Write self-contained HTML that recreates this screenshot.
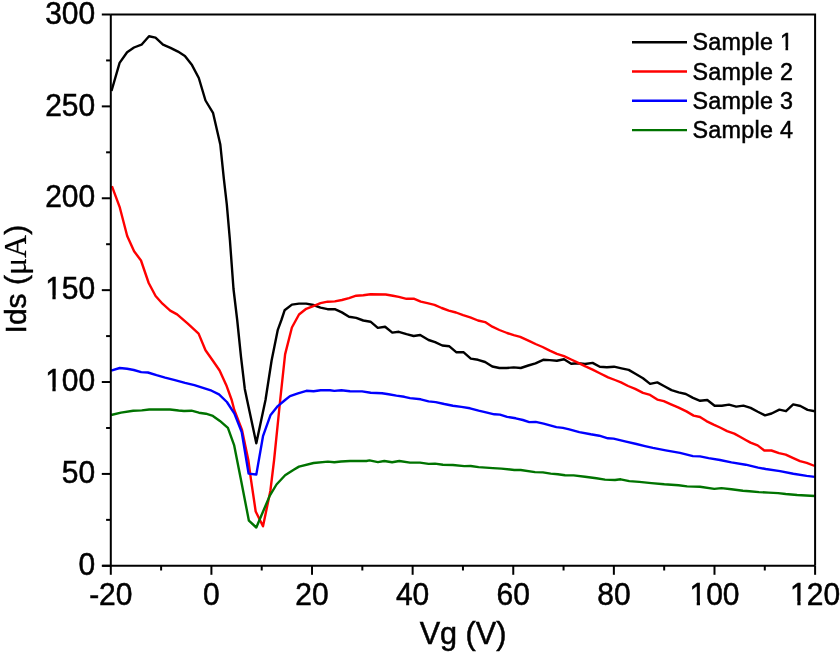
<!DOCTYPE html><html><head><meta charset="utf-8"><title>Ids vs Vg</title><style>
html,body{margin:0;padding:0;background:#fff;}body{width:840px;height:652px;overflow:hidden;}
svg{display:block;}text{font-family:"Liberation Sans",Arial,sans-serif;fill:#000;}
</style></head><body>
<svg width="840" height="652" viewBox="0 0 840 652">
<rect width="840" height="652" fill="#fff"/>
<g fill="none" stroke-width="2.4" stroke-linejoin="round">
<polyline stroke="#000000" points="111.5,91.0 119.6,62.9 127.1,52.2 134.0,47.5 141.5,44.7 149.0,36.3 155.5,37.6 163.0,44.7 170.5,47.9 178.0,51.6 184.9,55.9 192.0,65.1 198.8,78.0 205.5,100.5 213.0,112.8 220.3,144.5 223.8,178.3 226.8,204.4 229.9,240.0 231.7,264.5 233.5,289.0 237.2,320.0 241.0,356.8 244.8,388.9 247.1,400.0 256.3,443.3 265.5,400.0 271.6,360.5 277.8,329.8 281.4,320.0 284.6,310.3 291.9,304.6 299.0,303.6 306.2,303.6 313.3,305.0 320.5,307.6 327.6,309.2 334.8,309.2 341.9,312.4 349.0,316.7 356.2,317.9 363.3,320.5 370.5,321.7 377.8,327.9 385.1,326.7 392.3,332.6 398.8,331.8 406.5,334.2 413.7,336.0 420.2,335.0 428.6,340.0 435.1,342.1 442.3,345.5 449.4,346.3 456.5,352.3 463.7,352.3 470.8,358.6 478.0,359.8 485.1,362.0 492.3,366.5 499.4,368.0 506.5,368.0 513.7,367.4 520.8,368.0 528.3,365.5 535.5,363.3 543.2,359.8 549.8,360.1 556.9,360.7 564.0,359.3 571.2,363.7 578.3,363.3 584.9,364.0 592.6,362.9 599.8,366.7 606.9,367.3 614.0,366.7 621.5,368.3 628.7,369.9 635.8,374.0 643.0,378.2 650.1,383.9 657.3,382.4 664.4,386.2 671.5,390.1 678.7,392.3 685.8,394.0 693.0,397.9 700.1,400.8 707.3,400.0 714.6,405.7 721.8,405.7 729.0,404.6 736.2,406.6 743.4,405.6 750.6,407.9 757.8,411.8 765.0,415.4 771.6,413.5 779.4,409.6 786.0,411.2 793.2,404.4 800.4,406.0 807.6,409.9 814.8,411.2"/>
<polyline stroke="#ff0000" points="111.9,186.1 119.6,206.8 127.2,236.0 134.1,251.3 141.0,260.5 148.7,283.0 155.6,296.0 162.5,303.7 170.2,310.6 177.1,314.4 187.8,323.7 198.6,333.6 205.5,350.2 212.9,360.7 219.6,370.5 226.3,385.2 231.7,400.0 234.3,410.0 242.0,430.0 248.3,460.0 250.8,478.4 255.7,511.5 263.0,526.3 270.4,490.7 274.1,460.0 280.2,400.0 285.1,354.4 291.9,327.5 299.0,314.5 306.2,308.8 313.3,306.2 320.5,303.2 327.6,301.7 334.8,301.4 341.9,300.0 349.0,298.1 356.2,295.7 363.3,295.2 370.5,294.3 385.7,294.5 392.9,295.7 398.8,296.9 406.5,298.8 413.7,298.7 420.8,301.7 427.4,303.2 434.5,304.8 441.7,308.0 448.8,310.6 456.0,312.5 463.1,315.2 470.2,317.3 478.0,320.5 485.1,322.1 492.3,326.7 499.4,330.0 507.1,333.0 513.7,335.2 520.2,336.8 529.5,341.1 535.5,344.0 542.6,347.0 549.8,350.6 556.9,353.8 564.0,356.2 571.2,359.5 578.3,362.9 585.5,366.4 592.6,369.6 599.8,373.2 608.1,377.4 615.0,380.0 621.0,382.4 628.1,386.0 635.2,388.9 643.0,392.9 650.1,394.9 657.3,399.6 663.8,401.2 671.0,404.4 678.1,407.4 686.4,411.4 693.6,415.6 700.0,417.0 706.4,421.1 713.6,424.6 720.0,427.5 727.1,431.1 734.3,433.6 740.0,436.8 744.8,439.5 750.5,442.6 757.6,445.4 764.3,450.5 771.4,450.5 779.0,453.1 785.7,454.6 793.3,458.1 800.0,461.1 806.7,462.9 814.8,466.0"/>
<polyline stroke="#0000ff" points="111.1,370.6 119.7,368.0 127.1,368.7 133.8,370.0 141.2,372.1 147.9,372.5 156.5,375.2 165.1,377.6 174.9,380.1 185.0,382.9 194.4,385.2 211.6,390.7 219.0,394.4 226.9,402.0 234.3,413.4 241.7,432.0 248.6,473.6 256.3,474.6 263.0,436.2 270.4,415.3 277.8,406.1 285.1,400.0 290.0,396.1 298.0,393.3 306.4,390.8 313.6,391.2 320.7,390.3 330.0,390.3 334.3,390.9 341.4,390.2 350.0,391.3 362.1,391.4 370.7,392.7 382.1,393.2 388.6,394.2 396.4,395.6 404.3,396.8 410.0,398.1 420.7,399.3 428.6,401.4 435.7,402.1 444.3,404.0 452.9,405.7 461.4,406.9 470.0,408.3 478.6,410.7 487.1,412.6 494.3,414.3 500.0,414.6 507.1,416.9 515.7,418.3 522.9,420.0 529.3,422.1 535.7,421.9 543.6,423.6 556.4,427.1 562.9,427.9 569.3,429.3 579.3,432.1 590.7,434.3 599.3,435.7 607.9,438.3 613.6,438.6 625.0,441.4 636.4,444.0 645.0,446.1 652.9,447.9 665.7,450.4 680.0,452.9 692.9,456.1 700.0,456.4 708.6,458.1 720.0,460.0 731.4,462.4 745.7,464.7 758.1,467.6 765.7,469.0 780.0,471.1 793.3,473.8 806.7,475.9 814.8,476.9"/>
<polyline stroke="#007300" points="111.1,415.0 121.0,412.6 133.2,410.7 141.8,410.4 149.2,409.5 160.2,409.5 170.0,409.5 178.6,410.5 184.0,411.0 191.5,410.7 198.9,412.7 205.9,413.7 212.9,415.9 219.9,420.9 227.9,427.9 234.2,445.4 241.0,480.0 248.9,520.7 256.3,527.5 269.8,495.6 276.5,484.5 285.1,475.3 293.7,469.8 299.0,466.6 313.6,463.0 327.9,461.6 334.3,462.2 341.0,461.5 350.0,461.0 366.4,461.0 369.5,460.4 377.9,462.1 384.3,461.0 392.1,462.3 399.3,461.0 410.0,462.6 420.0,462.6 428.6,463.9 435.0,463.6 442.9,464.7 452.9,465.0 464.3,466.1 470.7,466.0 478.6,467.1 492.9,468.1 501.4,468.6 514.3,470.0 520.7,470.0 535.0,472.1 542.9,472.4 550.7,473.6 557.9,474.3 565.0,475.3 573.6,475.4 585.0,476.7 596.4,478.3 605.0,479.6 615.0,480.0 620.7,479.3 629.3,481.1 639.3,481.9 651.4,483.1 664.3,484.3 678.6,485.3 687.1,486.4 700.0,486.7 714.3,488.9 721.4,488.1 731.4,489.3 742.9,490.7 749.5,491.2 759.0,492.1 768.6,492.6 778.1,493.1 785.7,494.0 797.1,495.0 814.8,496.0"/>
</g>
<g stroke="#000" stroke-width="2.0" fill="none" stroke-linecap="butt">
<path d="M110.8,14.5 H815.1 V565.8 M110.8,14.5 V565.8 M102.3,565.8 H815.1"/>
<path d="M101.8,565.80 H110.8"/>
<path d="M106.1,519.86 H110.8"/>
<path d="M101.8,473.92 H110.8"/>
<path d="M106.1,427.97 H110.8"/>
<path d="M101.8,382.03 H110.8"/>
<path d="M106.1,336.09 H110.8"/>
<path d="M101.8,290.15 H110.8"/>
<path d="M106.1,244.21 H110.8"/>
<path d="M101.8,198.27 H110.8"/>
<path d="M106.1,152.32 H110.8"/>
<path d="M101.8,106.38 H110.8"/>
<path d="M106.1,60.44 H110.8"/>
<path d="M101.8,14.50 H110.8"/>
<path d="M110.80,565.8 V574.8"/>
<path d="M161.11,565.8 V570.5"/>
<path d="M211.41,565.8 V574.8"/>
<path d="M261.72,565.8 V570.5"/>
<path d="M312.03,565.8 V574.8"/>
<path d="M362.34,565.8 V570.5"/>
<path d="M412.64,565.8 V574.8"/>
<path d="M462.95,565.8 V570.5"/>
<path d="M513.26,565.8 V574.8"/>
<path d="M563.56,565.8 V570.5"/>
<path d="M613.87,565.8 V574.8"/>
<path d="M664.18,565.8 V570.5"/>
<path d="M714.49,565.8 V574.8"/>
<path d="M764.79,565.8 V570.5"/>
<path d="M815.10,565.8 V574.8"/>
</g>
<g font-size="30" text-anchor="end" stroke="#000" stroke-width="0.5">
<g transform="translate(95.2,574.9) scale(1,1.04)"><text id="yl0">0</text></g>
<g transform="translate(95.2,483.0) scale(1,1.04)"><text id="yl1">50</text></g>
<g transform="translate(95.2,391.1) scale(1,1.04)"><text id="yl2">100</text><rect x="-49.59" y="-3.54" width="6.79" height="4.84" fill="#fff" stroke="none"/><rect x="-39.54" y="-3.54" width="6.32" height="4.84" fill="#fff" stroke="none"/></g>
<g transform="translate(95.2,299.2) scale(1,1.04)"><text id="yl3">150</text><rect x="-49.59" y="-3.54" width="6.79" height="4.84" fill="#fff" stroke="none"/><rect x="-39.54" y="-3.54" width="6.32" height="4.84" fill="#fff" stroke="none"/></g>
<g transform="translate(95.2,207.4) scale(1,1.04)"><text id="yl4">200</text></g>
<g transform="translate(95.2,115.5) scale(1,1.04)"><text id="yl5">250</text></g>
<g transform="translate(95.2,23.6) scale(1,1.04)"><text id="yl6">300</text></g>
</g>
<g font-size="30" text-anchor="middle" stroke="#000" stroke-width="0.5">
<g transform="translate(110.8,604.7) scale(1,1.04)"><text id="xl0">-20</text></g>
<g transform="translate(211.4,604.7) scale(1,1.04)"><text id="xl1">0</text></g>
<g transform="translate(312.0,604.7) scale(1,1.04)"><text id="xl2">20</text></g>
<g transform="translate(412.6,604.7) scale(1,1.04)"><text id="xl3">40</text></g>
<g transform="translate(513.3,604.7) scale(1,1.04)"><text id="xl4">60</text></g>
<g transform="translate(613.9,604.7) scale(1,1.04)"><text id="xl5">80</text></g>
<g transform="translate(714.5,604.7) scale(1,1.04)"><text id="xl6">100</text><rect x="-24.57" y="-3.54" width="6.79" height="4.84" fill="#fff" stroke="none"/><rect x="-14.52" y="-3.54" width="6.32" height="4.84" fill="#fff" stroke="none"/></g>
<g transform="translate(815.1,604.7) scale(1,1.04)"><text id="xl7">120</text><rect x="-24.57" y="-3.54" width="6.79" height="4.84" fill="#fff" stroke="none"/><rect x="-14.52" y="-3.54" width="6.32" height="4.84" fill="#fff" stroke="none"/></g>
</g>
<text transform="translate(463,644)" font-size="30.6" text-anchor="middle" stroke="#000" stroke-width="0.5">Vg (V)</text>
<text transform="translate(26,333.4) rotate(-90)" font-size="30" stroke="#000" stroke-width="0.5">Ids (<tspan font-family="Liberation Serif" font-size="32" stroke-width="0.2">&#956;A</tspan>)</text>
<path d="M632,42.2 H687" stroke="#000000" stroke-width="2.4"/>
<g font-size="23.3" letter-spacing="0.28" stroke="#000" stroke-width="0.5"><text id="lg0" x="692.5" y="50.2">Sample 1</text><rect x="779.91" y="47.16" width="5.57" height="4.34" fill="#fff" stroke="none"/><rect x="788.14" y="47.16" width="5.20" height="4.34" fill="#fff" stroke="none"/></g>
<path d="M632,71.5 H687" stroke="#ff0000" stroke-width="2.4"/>
<g font-size="23.3" letter-spacing="0.28" stroke="#000" stroke-width="0.5"><text id="lg1" x="692.5" y="79.5">Sample 2</text></g>
<path d="M632,100.8 H687" stroke="#0000ff" stroke-width="2.4"/>
<g font-size="23.3" letter-spacing="0.28" stroke="#000" stroke-width="0.5"><text id="lg2" x="692.5" y="108.8">Sample 3</text></g>
<path d="M632,130.1 H687" stroke="#007300" stroke-width="2.4"/>
<g font-size="23.3" letter-spacing="0.28" stroke="#000" stroke-width="0.5"><text id="lg3" x="692.5" y="138.1">Sample 4</text></g>
</svg></body></html>
